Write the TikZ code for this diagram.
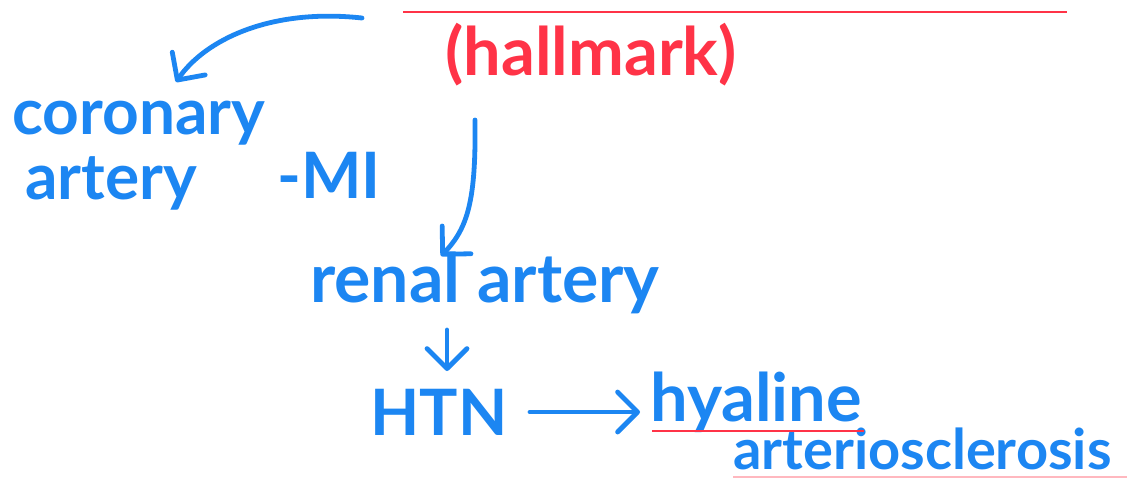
\documentclass[tikz,border=0pt]{standalone}
\usepackage{fontspec}
\setmainfont{Lato}
\usetikzlibrary{arrows.meta}
\definecolor{inkblue}{HTML}{1C86F2}
\definecolor{inkred}{HTML}{FF3347}
\begin{document}
\begin{tikzpicture}[x=0.75pt,y=-0.75pt,
  bluetxt/.style={text=inkblue,inner sep=0pt,font=\fontsize{48}{52}\selectfont\bfseries},
  redtxt/.style={text=inkred,inner sep=0pt,font=\fontsize{50}{54}\selectfont\bfseries},
  inkarrow/.style={draw=inkblue,line width=3.6pt,line cap=round,line join=round,
    -{Straight Barb[length=15pt,width=30pt,line cap=round,line join=round]}},
  redline/.style={draw=inkred,line width=1.2pt}]
\useasboundingbox[fill=white] (0,0) rectangle (1127,480);
% top red rule
\coordinate (r1a) at (403,12);
\coordinate (r1b) at (1067,12);
\draw[redline] (r1a) -- (r1b);
% hallmark
\node[redtxt,anchor=base west] (hall) at (445,75) {(hallmark)};
% coronary artery - MI
\node[bluetxt,anchor=base west] (cor) at (12,134) {coronary};
\node[bluetxt,anchor=base west] (art) at (25,199) {artery};
\node[bluetxt,anchor=base west] (mi) at (277,198) {-MI};
% renal artery
\node[bluetxt,anchor=base west,font=\fontsize{51}{55}\selectfont\bfseries] (renal) at (310,302) {renal artery};
% HTN
\node[bluetxt,anchor=base west,font=\fontsize{48}{52}\selectfont\bfseries] (htn) at (370,435) {HTN};
% hyaline arteriosclerosis
\node[bluetxt,anchor=base west,font=\fontsize{50}{54}\selectfont\bfseries] (hya) at (650,421) {hyaline};
\node[bluetxt,anchor=base west,font=\fontsize{42}{46}\selectfont\bfseries] (arts) at (733,469) {arteriosclerosis};
\coordinate (u1) at (652,431);
\coordinate (u2) at (864,431);
\draw[redline] (u1) -- (u2);
\coordinate (u3) at (733,477);
\coordinate (u4) at (1127,477);
\draw[draw=inkred!35,line width=1pt] (u3) -- (u4);
% arrows
\coordinate (s1) at (362,18);
\coordinate (e1) at (176,82);
\draw[inkarrow] (s1) .. controls (270,8) and (205,40) .. (e1);
\coordinate (s2) at (475,120);
\coordinate (e2) at (441,256);
\draw[inkarrow] (s2) .. controls (476,200) and (468,228) .. (e2);
\coordinate (s3) at (447,330);
\coordinate (e3) at (447,371);
\draw[inkarrow] (s3) -- (e3);
\coordinate (s4) at (530,412);
\coordinate (e4) at (640,412);
\draw[inkarrow] (s4) -- (e4);
\end{tikzpicture}
\end{document}
